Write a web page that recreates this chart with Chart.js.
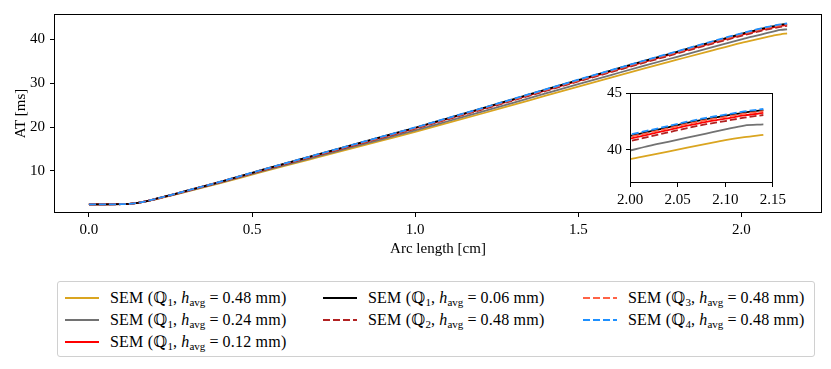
<!DOCTYPE html>
<html>
<head>
<meta charset="utf-8">
<script src="https://cdn.jsdelivr.net/npm/chart.js@4"></script>
<style>
  html, body { margin: 0; padding: 0; background: #fff; width: 831px; height: 369px; overflow: hidden; }
  #main { position: absolute; left: 0; top: 0; }
  #inset { position: absolute; left: 590px; top: 80px; }
  #legend { position: absolute; left: 57px; top: 281px; width: 756px; height: 74px; border: 1px solid #d0d0d0; border-radius: 3px; font-family: "Liberation Serif", "DejaVu Serif", serif; font-size: 16px; color: #000; }
  .item { position: absolute; height: 20px; line-height: 20px; white-space: nowrap; }
  .item svg { position: absolute; top: 4px; left: 0; }
  .item span.t { position: absolute; left: 45px; top: 0; letter-spacing: 0.2px; }
  .eq { margin: 0 4px; }
  sub { font-size: 11px; vertical-align: -3px; line-height: 0; letter-spacing: 0; }
</style>
</head>
<body>
<canvas id="main" width="831" height="260"></canvas>
<canvas id="inset" width="200" height="130"></canvas>
<div id="legend"></div>
<script>
// ---- data ----
const arcLength = [0, 0.05, 0.1, 0.15, 0.2, 0.25, 0.3, 0.4, 0.5, 0.6, 0.7, 0.8, 0.9, 1.0, 1.1, 1.2, 1.3, 1.4, 1.5, 1.6, 1.7, 1.8, 1.9, 2.0, 2.02, 2.04, 2.06, 2.08, 2.10, 2.12, 2.14];
const semQ1h048 = [2.40, 2.40, 2.42, 2.72, 3.46, 4.35, 5.29, 7.18, 9.17, 11.15, 13.09, 15.02, 16.96, 18.89, 20.93, 22.97, 25.05, 27.14, 29.22, 31.26, 33.29, 35.28, 37.26, 39.20, 39.53, 39.86, 40.20, 40.53, 40.86, 41.12, 41.33];
const semQ1h024 = [2.40, 2.40, 2.42, 2.73, 3.49, 4.40, 5.36, 7.29, 9.32, 11.34, 13.32, 15.29, 17.27, 19.24, 21.32, 23.40, 25.52, 27.65, 29.77, 31.85, 33.92, 35.95, 37.97, 39.95, 40.36, 40.72, 41.08, 41.44, 41.80, 42.14, 42.24];
const semQ1h012 = [2.40, 2.40, 2.42, 2.75, 3.53, 4.48, 5.47, 7.45, 9.53, 11.61, 13.64, 15.67, 17.70, 19.74, 21.87, 24.00, 26.18, 28.36, 30.54, 32.67, 34.81, 36.89, 38.97, 41.00, 41.37, 41.75, 42.13, 42.47, 42.75, 43.03, 43.25];
const semQ1h006 = [2.40, 2.40, 2.42, 2.75, 3.55, 4.49, 5.49, 7.48, 9.58, 11.67, 13.71, 15.76, 17.80, 19.84, 21.99, 24.13, 26.32, 28.52, 30.71, 32.86, 35.00, 37.09, 39.19, 41.23, 41.61, 41.99, 42.37, 42.71, 43.00, 43.28, 43.50];
const semQ2h048 = [2.40, 2.40, 2.42, 2.74, 3.53, 4.46, 5.45, 7.42, 9.48, 11.55, 13.57, 15.59, 17.61, 19.63, 21.75, 23.87, 26.04, 28.21, 30.38, 32.50, 34.62, 36.69, 38.76, 40.78, 41.16, 41.54, 41.92, 42.26, 42.54, 42.83, 43.07];
const semQ3h048 = [2.40, 2.40, 2.42, 2.75, 3.54, 4.49, 5.48, 7.47, 9.56, 11.65, 13.69, 15.73, 17.77, 19.81, 21.95, 24.09, 26.27, 28.46, 30.65, 32.79, 34.93, 37.02, 39.11, 41.15, 41.52, 41.90, 42.28, 42.62, 42.90, 43.18, 43.40];
const semQ4h048 = [2.40, 2.40, 2.42, 2.75, 3.55, 4.50, 5.50, 7.50, 9.60, 11.70, 13.75, 15.80, 17.85, 19.90, 22.05, 24.20, 26.40, 28.60, 30.80, 32.95, 35.10, 37.20, 39.30, 41.35, 41.72, 42.10, 42.48, 42.82, 43.10, 43.38, 43.60];

const quadratures = [1, 1, 1, 1, 2, 3, 4];
const hAvg = ['0.48', '0.24', '0.12', '0.06', '0.48', '0.48', '0.48'];
const mainXTicks = [0, 0.5, 1.0, 1.5, 2.0];
const mainYTicks = [10, 20, 30, 40];
const insetXTicks = [2.00, 2.05, 2.10, 2.15];
const insetYTicks = [40, 45];

// ---- styles ----
const seriesValues = [semQ1h048, semQ1h024, semQ1h012, semQ1h006, semQ2h048, semQ3h048, semQ4h048];
const colors = ['#daa520', '#727272', '#ff0000', '#000000', '#b22222', '#ff6347', '#1e90ff'];
const dashes = [[], [], [], [], [7, 3], [7, 3], [7, 3]];

function makeDatasets() {
  return seriesValues.map((vals, i) => ({
    label: 'SEM (Q' + quadratures[i] + ', h_avg = ' + hAvg[i] + ' mm)',
    data: arcLength.map((x, j) => ({ x: x, y: vals[j] })),
    borderColor: colors[i],
    backgroundColor: colors[i],
    borderDash: dashes[i],
    borderWidth: 1.8,
    pointRadius: 0,
    fill: false,
    cubicInterpolationMode: 'monotone',
    order: 6 - i
  }));
}

const FONT = '"Liberation Serif", "DejaVu Serif", serif';

const framePlugin = {
  id: 'frame',
  beforeDraw(chart, args, opts) {
    if (opts && opts.fill) {
      const a = chart.chartArea;
      chart.ctx.save();
      chart.ctx.fillStyle = '#fff';
      chart.ctx.fillRect(a.left, a.top, a.right - a.left, a.bottom - a.top);
      chart.ctx.restore();
    }
  },
  afterDraw(chart) {
    const a = chart.chartArea;
    const ctx = chart.ctx;
    ctx.save();
    ctx.strokeStyle = '#000';
    ctx.lineWidth = 1;
    ctx.strokeRect(Math.round(a.left) + 0.5, Math.round(a.top) + 0.5, Math.round(a.right - a.left) - 1, Math.round(a.bottom - a.top) - 1);
    ctx.restore();
  }
};

function axis(opts) {
  return Object.assign({
    type: 'linear',
    border: { display: false },
    grid: { drawOnChartArea: false, drawTicks: true, tickLength: 4, color: '#000', lineWidth: 1 },
  }, opts);
}

new Chart(document.getElementById('main'), {
  type: 'line',
  data: { datasets: makeDatasets() },
  plugins: [framePlugin],
  options: {
    responsive: false, animation: false, devicePixelRatio: 1,
    layout: { padding: { top: 9, right: 9, left: 0, bottom: 0 } },
    plugins: { legend: { display: false }, tooltip: { enabled: false }, frame: { fill: false } },
    scales: {
      x: axis({
        position: 'bottom', min: -0.107, max: 2.247,
        afterBuildTicks: s => { s.ticks = mainXTicks.map(v => ({ value: v })); },
        afterFit: s => { s.height = 47; },
        ticks: { color: '#000', padding: 4, font: { family: FONT, size: 15 }, maxRotation: 0, callback: v => v.toFixed(1) },
        title: { display: true, text: 'Arc length [cm]', color: '#000', font: { family: FONT, size: 15 }, padding: { top: 0, bottom: 2 } }
      }),
      y: axis({
        position: 'left', min: 0.42, max: 45.75,
        afterBuildTicks: s => { s.ticks = mainYTicks.map(v => ({ value: v })); },
        afterFit: s => { s.width = 54; },
        ticks: { color: '#000', padding: 5, font: { family: FONT, size: 15 }, callback: v => String(v) },
        title: { display: true, text: 'AT [ms]', color: '#000', font: { family: FONT, size: 15 }, padding: { top: 12, bottom: 0 } }
      })
    }
  }
});

new Chart(document.getElementById('inset'), {
  type: 'line',
  data: { datasets: makeDatasets() },
  plugins: [framePlugin],
  options: {
    responsive: false, animation: false, devicePixelRatio: 1,
    layout: { padding: { top: 10, right: 7, left: 0, bottom: 0 } },
    plugins: { legend: { display: false }, tooltip: { enabled: false }, frame: { fill: true } },
    scales: {
      x: axis({
        position: 'bottom', min: 2.0, max: 2.15,
        afterBuildTicks: s => { s.ticks = insetXTicks.map(v => ({ value: v })); },
        afterFit: s => { s.height = 27; },
        ticks: { color: '#000', padding: 4, font: { family: FONT, size: 15 }, maxRotation: 0, autoSkip: false, callback: v => v.toFixed(2) }
      }),
      y: axis({
        position: 'left', min: 37.1, max: 45,
        afterBuildTicks: s => { s.ticks = insetYTicks.map(v => ({ value: v })); },
        afterFit: s => { s.width = 40; },
        ticks: { color: '#000', padding: 4, font: { family: FONT, size: 15 }, callback: v => String(v) }
      })
    }
  }
});

// ---- HTML legend (column-major, 3 columns) ----
const legend = document.getElementById('legend');
const colX = [7, 265, 525];
const rowY = [6, 28, 50];
const perCol = [3, 2, 2];
let idx = 0;
perCol.forEach((n, c) => {
  for (let r = 0; r < n; r++, idx++) {
    const i = idx;
    const div = document.createElement('div');
    div.className = 'item';
    div.style.left = colX[c] + 'px';
    div.style.top = rowY[r] + 'px';
    const dash = dashes[i].length ? ' stroke-dasharray="' + dashes[i].join(' ') + '"' : '';
    div.innerHTML = '<svg width="36" height="12"><line x1="0" y1="6" x2="34" y2="6" stroke="' + colors[i] + '" stroke-width="1.8"' + dash + '/></svg>' +
      '<span class="t">SEM (ℚ<sub>' + quadratures[i] + '</sub>, <i>h</i><sub>avg</sub><span class="eq">=</span>' + hAvg[i] + ' mm)</span>';
    legend.appendChild(div);
  }
});
</script>
</body>
</html>
